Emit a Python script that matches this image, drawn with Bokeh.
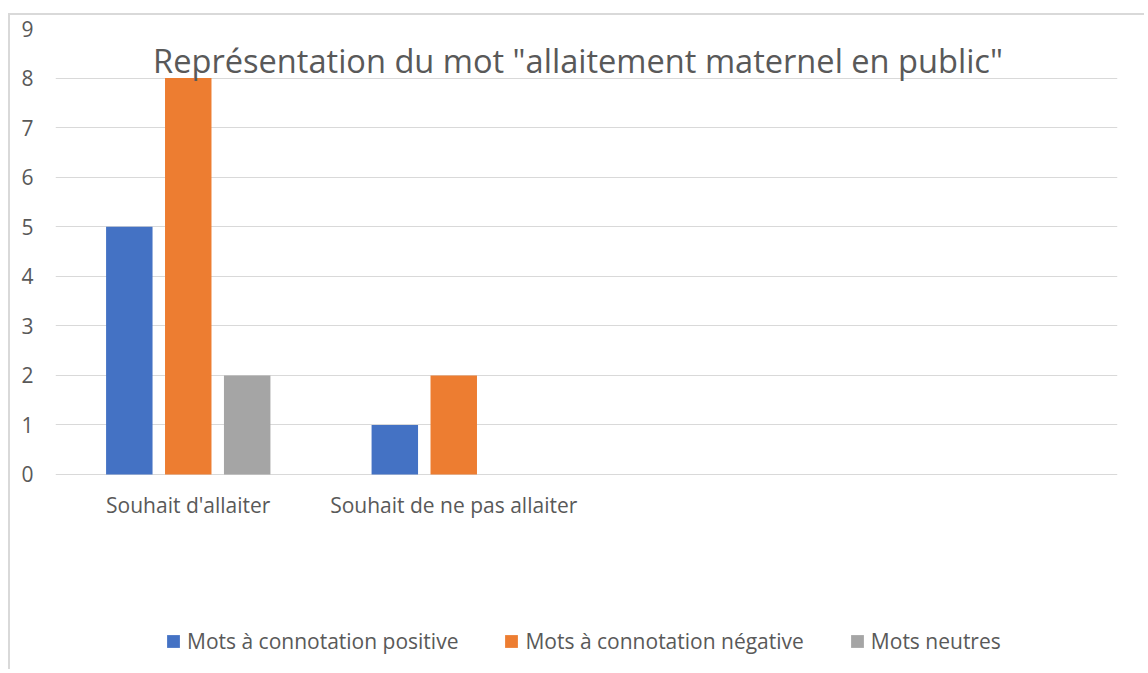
from bokeh.plotting import figure
from bokeh.models import FactorRange, Range1d, Legend, LegendItem, Label, FixedTicker, ColumnDataSource
from bokeh.transform import dodge
from bokeh.embed import file_html
from bokeh.resources import INLINE

# ---- data ----
categories = ["Souhait d'allaiter", "Souhait de ne pas allaiter", " ", "  "]
data_categories = ["Souhait d'allaiter", "Souhait de ne pas allaiter"]
series_names = ["Mots à connotation positive", "Mots à connotation négative", "Mots neutres"]
positive = [5, 1]
negative = [8, 2]
neutral = [2, 0]
y_ticks = [0, 1, 2, 3, 4, 5, 6, 7, 8, 9]
title_text = 'Représentation du mot "allaitement maternel en public"'

colors = ["#4472C4", "#ED7D31", "#A5A5A5"]
text_color = "#595959"
font = "Open Sans"

source = ColumnDataSource(dict(cat=data_categories, pos=positive, neg=negative, neu=neutral))

# the frame extends below 0 so that category labels and legend sit inside it
p = figure(
    width=1136, height=656,
    x_range=FactorRange(factors=categories, range_padding=0),
    y_range=Range1d(-3.935, 9),
    output_backend="svg", toolbar_location=None,
    min_border_left=45, min_border_right=29, min_border_top=13, min_border_bottom=2,
    margin=(13, 0, 0, 8),
)
p.styles = {"border-left": "2px solid #d9d9d9", "border-top": "2px solid #d9d9d9"}
p.outline_line_color = None
p.background_fill_color = "white"
p.border_fill_color = "white"

bw = 0.175
r1 = p.vbar(x=dodge("cat", -0.222, range=p.x_range), top="pos", width=bw, source=source,
            fill_color=colors[0], line_color=None)
r2 = p.vbar(x=dodge("cat", 0.0, range=p.x_range), top="neg", width=bw, source=source,
            fill_color=colors[1], line_color=None)
r3 = p.vbar(x=dodge("cat", 0.222, range=p.x_range), top="neu", width=bw, source=source,
            fill_color=colors[2], line_color=None)

# axes
p.xgrid.grid_line_color = None
p.ygrid.grid_line_color = "#D9D9D9"
p.ygrid.grid_line_width = 1
p.yaxis.ticker = FixedTicker(ticks=y_ticks)
for ax in (p.xaxis[0], p.yaxis[0]):
    ax.axis_line_color = None
    ax.major_tick_line_color = None
    ax.minor_tick_line_color = None
    ax.major_label_text_font = font
    ax.major_label_text_font_size = "21px"
    ax.major_label_text_color = text_color
p.yaxis.major_label_standoff = 16
p.xaxis.fixed_location = 0
p.xaxis.major_label_standoff = 11

# title (inside the plot area, like the reference)
p.add_layout(Label(x=1.968, y=8.36, text=title_text, text_align="center", text_baseline="middle",
                   text_font=font, text_font_size="32.6px", text_color=text_color))

legend = Legend(
    items=[LegendItem(label=series_names[0], renderers=[r1]),
           LegendItem(label=series_names[1], renderers=[r2]),
           LegendItem(label=series_names[2], renderers=[r3])],
    orientation="horizontal", location=(110, 14),
    spacing=45, label_standoff=6, glyph_width=16, glyph_height=16,
    padding=0, margin=0, border_line_color=None, background_fill_alpha=0,
    label_text_font=font, label_text_font_size="21px", label_text_color=text_color,
    label_height=20,
)
p.add_layout(legend)

open("out.html", "w").write(file_html(p, INLINE))
